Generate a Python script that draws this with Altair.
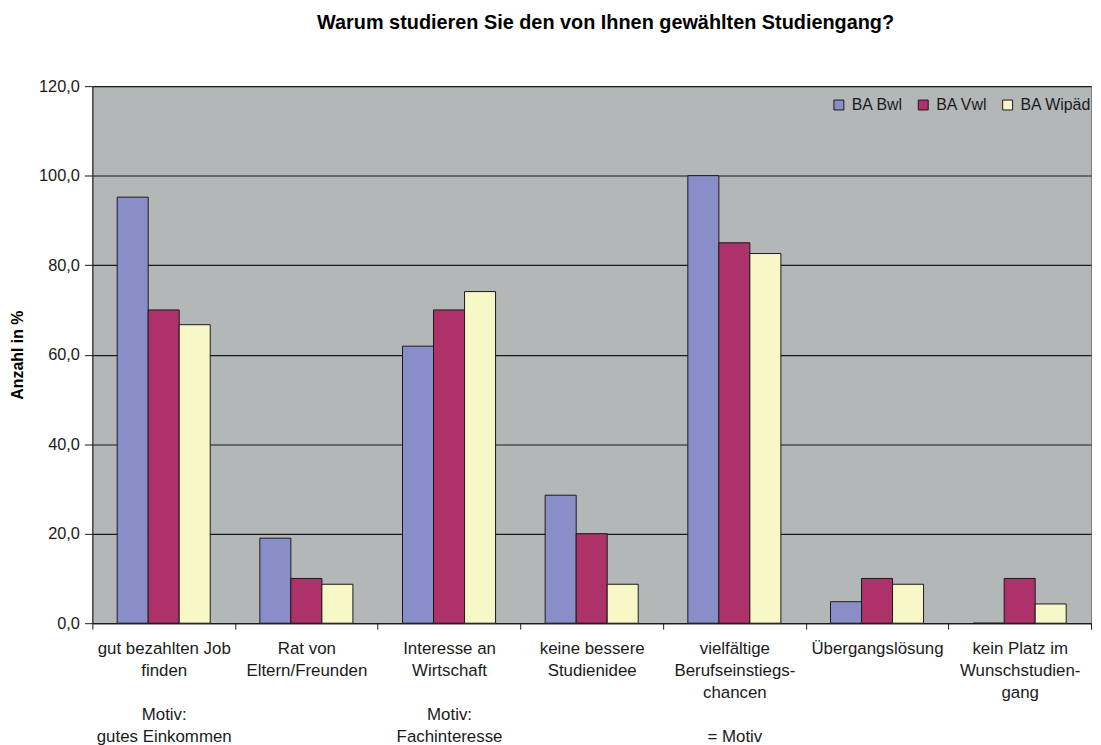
import altair as alt
import pandas as pd

categories = [
    "gut bezahlten Job|finden",
    "Rat von|Eltern/Freunden",
    "Interesse an|Wirtschaft",
    "keine bessere|Studienidee",
    "vielfältige|Berufseinstiegs-|chancen",
    "Übergangslösung",
    "kein Platz im|Wunschstudien-|gang",
]
notes = ["Motiv:|gutes Einkommen", "", "Motiv:|Fachinteresse", "", "= Motiv", "", ""]
series = ["BA Bwl", "BA Vwl", "BA Wipäd"]
bwl = [95.2, 19.0, 61.9, 28.6, 100.0, 4.8, 0.0]
vwl = [70.0, 10.0, 70.0, 20.0, 85.0, 10.0, 10.0]
wipaed = [66.7, 8.7, 74.1, 8.7, 82.6, 8.7, 4.3]
colors = ["#888EC8", "#AD3269", "#F8F7C8"]
y_ticks = [0, 20, 40, 60, 80, 100, 120]

labels = [c + ("|\u2800|" + n if n else "") for c, n in zip(categories, notes)]
rows = []
for s, vals in zip(series, [bwl, vwl, wipaed]):
    for lab, v in zip(labels, vals):
        rows.append({"label": lab, "series": s, "value": v})
df = pd.DataFrame(rows)

FONT = "Liberation Sans"

chart = alt.Chart(df).mark_bar(stroke="#1a1a1a", strokeWidth=1).encode(
    x=alt.X(
        "label:N",
        sort=labels,
        scale=alt.Scale(paddingInner=0, paddingOuter=0),
        axis=alt.Axis(
            title=None,
            labelExpr="split(datum.label, '|')",
            labelAngle=0,
            labelAlign="center",
            labelBaseline="top",
            labelLineHeight=22,
            labelFont=FONT,
            labelFontSize=17,
            labelColor="#1a1a1a",
            labelPadding=12,
            tickBand="extent",
            tickSize=6,
            tickColor="#1a1a1a",
            domainColor="#1a1a1a",
            grid=False,
            labelOverlap=False,
            labelLimit=0,
        ),
    ),
    xOffset=alt.XOffset(
        "series:N", sort=series, scale=alt.Scale(paddingInner=0, paddingOuter=0.8)
    ),
    y=alt.Y(
        "value:Q",
        scale=alt.Scale(domain=[0, 120], nice=False),
        axis=alt.Axis(
            title="Anzahl in %",
            values=y_ticks,
            labelExpr="replace(format(datum.value, '.1f'), '.', ',')",
            labelFont=FONT,
            labelFontSize=16.5,
            labelColor="#1a1a1a",
            labelPadding=5,
            tickSize=8,
            tickColor="#1a1a1a",
            domainColor="#1a1a1a",
            grid=True,
            gridColor="#1a1a1a",
            gridWidth=1.2,
            titleFont=FONT,
            titleFontSize=16,
            titleFontWeight="bold",
            titleColor="#000000",
            titleX=-75,
            titleBaseline="middle",
        ),
    ),
    color=alt.Color(
        "series:N",
        sort=series,
        scale=alt.Scale(domain=series, range=colors),
        legend=alt.Legend(
            title=None,
            orient="none",
            legendX=744,
            legendY=11,
            direction="horizontal",
            symbolType="square",
            symbolSize=100,
            symbolStrokeColor="#1a1a1a",
            symbolStrokeWidth=1,
            symbolOpacity=1,
            labelFont=FONT,
            labelFontSize=16,
            labelColor="#1a1a1a",
            labelOffset=5,
            columnPadding=12,
            padding=0,
        ),
    ),
).properties(
    width=1006,
    height=541,
    autosize=alt.AutoSizeParams(type="none"),
    padding={"left": 85, "top": 76, "right": 2, "bottom": 124},
    title=alt.TitleParams(
        "Warum studieren Sie den von Ihnen gewählten Studiengang?",
        font=FONT,
        fontSize=20,
        fontWeight="bold",
        color="#000000",
        anchor="middle",
        baseline="alphabetic",
        offset=30,
        dx=14,
    ),
).configure_view(
    fill="#B4B7B7", stroke="#7F7F7F", strokeWidth=1
)

chart.save("out.html", embed_options={"renderer": "svg", "actions": False})
